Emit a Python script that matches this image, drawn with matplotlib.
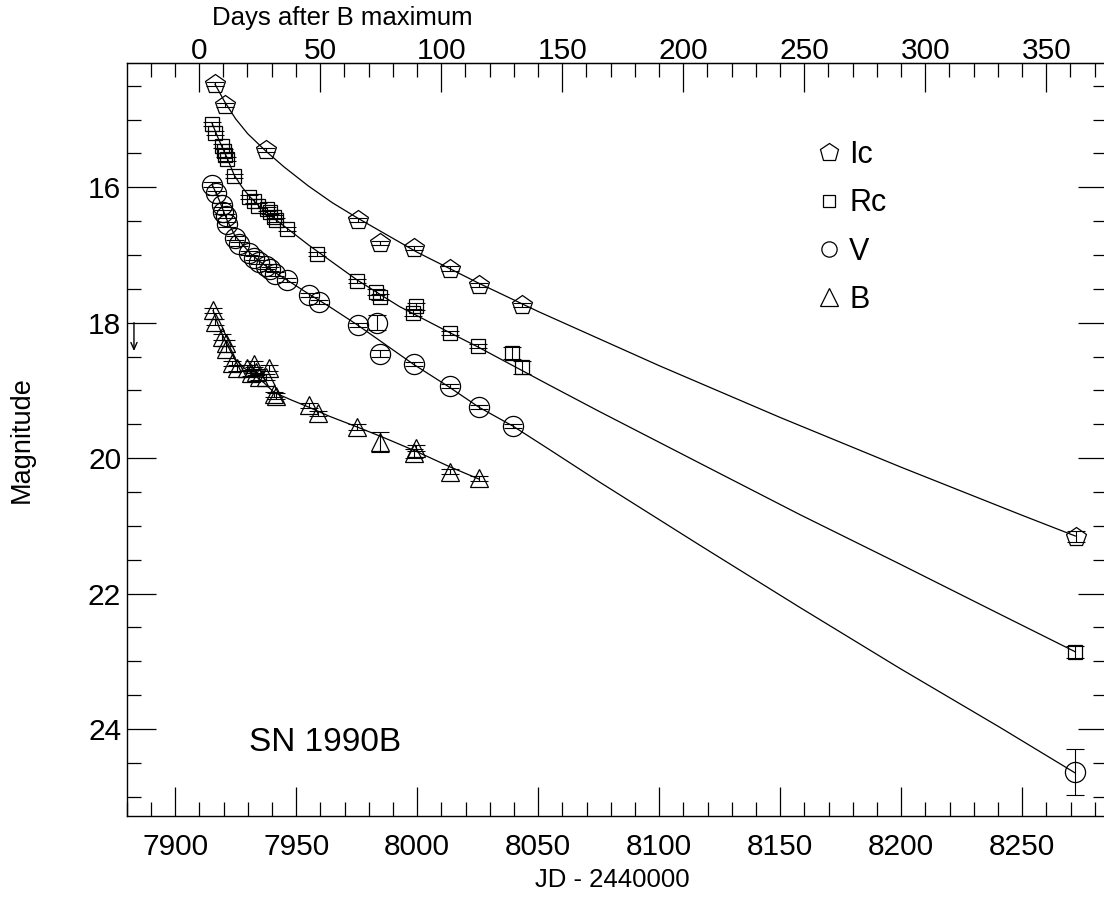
import matplotlib
matplotlib.use("Agg")
import matplotlib.pyplot as plt
from matplotlib.lines import Line2D
from matplotlib.ticker import MultipleLocator, FixedLocator

plt.rcParams["font.family"] = ["Liberation Sans", "DejaVu Sans"]

# JD - 2440000, magnitudes and errors
ic_jd = [7916.5, 7920.5, 7937.7, 7975.6, 7984.6, 7998.5, 8013.5, 8025.6, 8043.5, 8272.2]
ic_mag = [14.48, 14.78, 15.45, 16.49, 16.82, 16.90, 17.20, 17.45, 17.74, 21.16]
ic_err = [0.03, 0.03, 0.03, 0.03, 0.03, 0.03, 0.03, 0.03, 0.03, 0.08]

rc_jd = [7915.3, 7916.5, 7919.4, 7920.2, 7920.7, 7921.5, 7924.4, 7930.6, 7932.6, 7934.3,
         7938.0, 7939.3, 7940.9, 7941.7, 7946.3, 7958.7, 7975.2, 7983.1, 7984.7, 7998.3,
         7999.6, 8013.6, 8025.2, 8039.3, 8043.4, 8271.9]
rc_mag = [15.06, 15.20, 15.39, 15.47, 15.53, 15.59, 15.84, 16.15, 16.21, 16.27,
          16.32, 16.37, 16.44, 16.49, 16.61, 16.99, 17.39, 17.55, 17.62, 17.85,
          17.76, 18.15, 18.35, 18.45, 18.66, 22.86]
rc_err = [0.03, 0.03, 0.03, 0.03, 0.03, 0.03, 0.03, 0.03, 0.03, 0.03,
          0.03, 0.03, 0.03, 0.03, 0.03, 0.03, 0.03, 0.04, 0.04, 0.05,
          0.05, 0.03, 0.03, 0.09, 0.10, 0.09]

v_jd = [7915.4, 7916.7, 7919.5, 7919.8, 7920.9, 7921.6, 7924.8, 7926.3, 7930.6, 7932.6,
        7934.5, 7937.6, 7939.3, 7941.3, 7946.4, 7955.4, 7959.5, 7975.6, 7983.3, 7984.6,
        7998.5, 8013.5, 8025.6, 8039.7, 8271.9]
v_mag = [15.96, 16.08, 16.26, 16.36, 16.43, 16.55, 16.75, 16.84, 16.97, 17.04,
         17.11, 17.17, 17.21, 17.28, 17.37, 17.59, 17.69, 18.04, 18.00, 18.46,
         18.61, 18.94, 19.25, 19.52, 24.64]
v_err = [0.03, 0.03, 0.03, 0.03, 0.03, 0.03, 0.03, 0.03, 0.03, 0.03,
         0.03, 0.03, 0.03, 0.03, 0.03, 0.03, 0.03, 0.03, 0.11, 0.05,
         0.03, 0.03, 0.03, 0.03, 0.34]

b_jd = [7915.7, 7916.5, 7919.4, 7921.1, 7921.1, 7923.7, 7925.7, 7929.8, 7931.3, 7932.6,
        7933.5, 7934.7, 7937.5, 7938.8, 7940.9, 7941.7, 7955.4, 7959.2, 7975.3, 7984.7,
        7998.5, 7999.5, 8013.5, 8025.6]
b_mag = [17.82, 17.99, 18.21, 18.30, 18.39, 18.60, 18.67, 18.67, 18.74, 18.61,
         18.73, 18.80, 18.80, 18.67, 19.06, 19.08, 19.22, 19.34, 19.54, 19.76,
         19.93, 19.85, 20.20, 20.30]
b_err = [0.04, 0.04, 0.04, 0.04, 0.04, 0.04, 0.04, 0.04, 0.04, 0.04,
         0.04, 0.04, 0.04, 0.04, 0.04, 0.04, 0.04, 0.04, 0.04, 0.15,
         0.07, 0.04, 0.04, 0.04]

# fitted curves, sampled along the drawn lines
ic_fit_jd = [7916.5, 7920.5, 7925.0, 7930.0, 7937.6, 7945.0, 7955.0, 7965.0, 7975.6, 8000.0,
             8025.6, 8050.0, 8100.0, 8150.0, 8200.0, 8250.0, 8271.9]
ic_fit_mag = [14.48, 14.74, 14.99, 15.21, 15.47, 15.70, 15.98, 16.23, 16.46, 16.96,
              17.42, 17.835, 18.635, 19.40, 20.135, 20.845, 21.15]

rc_fit_jd = [7915.3, 7918.2, 7921.5, 7924.4, 7927.7, 7930.6, 7934.7, 7940.9, 7947.1, 7955.4,
             7975.2, 7992.6, 8013.6, 8025.2, 8054.5, 8075.2, 8116.5, 8157.9, 8199.2, 8240.5, 8271.9]
rc_fit_mag = [15.06, 15.31, 15.57, 15.82, 16.00, 16.13, 16.28, 16.46, 16.63, 16.86,
              17.37, 17.76, 18.15, 18.36, 18.92, 19.31, 20.07, 20.83, 21.56, 22.30, 22.86]

v_fit_jd = [7915.3, 7918.2, 7921.5, 7924.8, 7930.6, 7934.7, 7940.9, 7947.1, 7955.4, 7963.6,
            7975.6, 7998.3, 8013.2, 8025.6, 8039.7, 8054.5, 8075.2, 8116.5, 8157.9, 8199.2,
            8240.5, 8271.9]
v_fit_mag = [15.96, 16.19, 16.49, 16.72, 16.96, 17.09, 17.25, 17.39, 17.58, 17.76,
             18.04, 18.61, 18.95, 19.25, 19.53, 19.87, 20.35, 21.28, 22.20, 23.10,
             23.97, 24.65]

b_fit_jd = [7915.7, 7918.2, 7921.1, 7924.4, 7928.5, 7932.6, 7936.8, 7940.9, 7947.9, 7955.4,
            7963.6, 7975.2, 7986.4, 7999.6, 8013.6, 8025.6]
b_fit_mag = [17.82, 18.07, 18.30, 18.52, 18.67, 18.77, 18.89, 19.03, 19.14, 19.25,
             19.38, 19.54, 19.70, 19.90, 20.13, 20.31]

limit_jd = 7883.0
limit_mag = [18.0, 18.42]

jd_bmax = 7909.9
day_ticks = [0, 50, 100, 150, 200, 250, 300, 350]

bands = [
    ("Ic", "p", 14.5, 13.5, ic_jd, ic_mag, ic_err, ic_fit_jd, ic_fit_mag),
    ("Rc", "s", 10.5, 9.0, rc_jd, rc_mag, rc_err, rc_fit_jd, rc_fit_mag),
    ("V", "o", 14.5, 11.0, v_jd, v_mag, v_err, v_fit_jd, v_fit_mag),
    ("B", "^", 13.0, 12.5, b_jd, b_mag, b_err, b_fit_jd, b_fit_mag),
]

fig = plt.figure(figsize=(11.04, 9.0), dpi=100)
ax = fig.add_axes([126.7 / 1104, 84.3 / 900, 980.3 / 1104, 752.4 / 900])

for name, mk, ms, lms, x, y, e, fx, fy in bands:
    ax.plot(fx, fy, color="k", lw=0.9, zorder=2)
    ax.errorbar(x, y, yerr=e, fmt="none", ecolor="k", elinewidth=0.8,
                capsize=6.5, capthick=0.8, zorder=3)
    ax.plot(x, y, ls="none", marker=mk, ms=ms, mfc="none", mec="k", mew=0.9, zorder=4)

ax.annotate("", xy=(limit_jd, limit_mag[1]), xytext=(limit_jd, limit_mag[0]),
            arrowprops=dict(arrowstyle="->,head_width=0.22,head_length=0.5",
                            lw=1.0, color="k", shrinkA=0, shrinkB=0))

ax.text(7930.6, 24.2, "SN 1990B", fontsize=24, ha="left", va="center")

handles = [Line2D([], [], ls="none", marker=b[1], ms=b[3], mfc="none", mec="k", mew=0.9)
           for b in bands]
ax.legend(handles, [b[0] for b in bands], loc="upper left", bbox_to_anchor=(0.701, 0.898),
          frameon=False, fontsize=22, handlelength=1.0, handletextpad=0.15,
          labelspacing=0.6, borderpad=0, borderaxespad=0)

ax.set_xlim(7880, 8285)
ax.set_ylim(25.28, 14.17)

ax.xaxis.set_major_locator(MultipleLocator(50))
ax.xaxis.set_minor_locator(MultipleLocator(10))
ax.yaxis.set_major_locator(MultipleLocator(2))
ax.yaxis.set_minor_locator(MultipleLocator(0.5))
ax.tick_params(which="both", direction="in", right=True, width=0.9, labelsize=21.5)
ax.tick_params(which="major", length=21)
ax.tick_params(which="minor", length=10)
ax.tick_params(axis="x", pad=12.5)
ax.tick_params(axis="y", pad=4)
for sp in ax.spines.values():
    sp.set_linewidth(1.0)

# days after B maximum along the top
top = ax.secondary_xaxis("top", functions=(lambda j: j - jd_bmax, lambda d: d + jd_bmax))
top.xaxis.set_major_locator(FixedLocator(day_ticks))
top.xaxis.set_minor_locator(MultipleLocator(10))
top.tick_params(which="both", direction="in", width=0.9, labelsize=21.5)
top.tick_params(which="major", length=21, pad=-1)
top.tick_params(which="minor", length=10)

fig.text(342 / 1104, 1 - 18 / 900, "Days after B maximum", fontsize=18.5, ha="center", va="center")
fig.text(612 / 1104, 1 - 880 / 900, "JD - 2440000", fontsize=18.5, ha="center", va="center")
fig.text(22 / 1104, 1 - 440 / 900, "Magnitude", fontsize=19.5, rotation=90, ha="center", va="center")

fig.savefig("out.png", dpi=100)
